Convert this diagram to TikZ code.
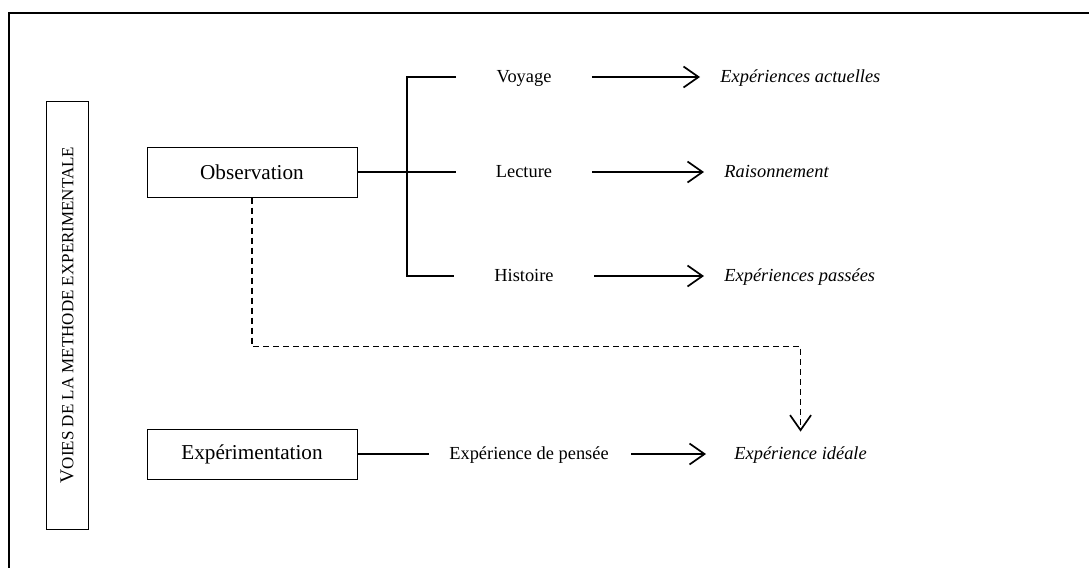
\documentclass[tikz,border=0pt]{standalone}
\usepackage{fontspec}
\setmainfont{Liberation Serif}
\usetikzlibrary{arrows.meta}

\begin{document}
\begin{tikzpicture}[x=0.5pt, y=-0.5pt,
    boite/.style={draw, line width=0.5pt, minimum width=105pt, minimum height=25pt,
        inner sep=0pt, font=\fontsize{10.6}{12}\selectfont},
    etiq/.style={inner sep=0pt, text height=7pt, text depth=2pt, font=\fontsize{9.2}{11}\selectfont},
    resu/.style={etiq, anchor=west, font=\fontsize{9.2}{11}\selectfont\itshape},
    trait/.style={line width=0.85pt},
    fleche/.style={trait, -{Straight Barb[length=7.5pt, width=10.5pt]}},
    pointille/.style={fleche, dash pattern=on 3pt off 2pt}]
    \useasboundingbox (0,0) rectangle (1089,568);
    \clip (0,0) rectangle (1089,568);

    % Cadre extérieur (coupé à droite et en bas)
    \draw[line width=1pt] (9,600) |- (1120,13);

    % Titre vertical
    \node[draw, line width=0.5pt, rotate=90, minimum width=214pt, minimum height=21pt, inner sep=0pt]
        (voies) at (67,315)
        {\fontsize{9.8}{11}\selectfont V\fontsize{8.5}{10}\selectfont OIES DE LA METHODE EXPERIMENTALE};

    % Les deux voies
    \node[boite] (obs) at (252,172) {Observation};
    \node[boite] (exp) at (252,454) {Expérimentation};

    % Branches de l'observation
    \node[etiq] (voy) at (524,77) {Voyage};
    \node[etiq] (lec) at (524,172) {Lecture};
    \node[etiq] (his) at (524,276) {Histoire};
    \node[resu] (act) at (720,77) {Expériences actuelles};
    \node[resu] (rai) at (724,172) {Raisonnement};
    \node[resu] (pas) at (724,276) {Expériences passées};

    \draw[trait] (obs) -- ([xshift=-20pt]lec.west);
    \draw[trait] ([xshift=-20pt]voy.west) -| (407,172) |- ([xshift=-20pt]his.west);
    \draw[fleche] ([xshift=20pt]voy.east) -- ([xshift=-10pt]act.west);
    \draw[fleche] ([xshift=20pt]lec.east) -- ([xshift=-10pt]rai.west);
    \draw[fleche] ([xshift=20pt]his.east) -- ([xshift=-10pt]pas.west);

    % Branche de l'expérimentation
    \node[etiq] (pen) at (529,454) {Expérience de pensée};
    \node[resu] (ide) at (734,454) {Expérience idéale};

    \draw[trait] (exp) -- ([xshift=-10pt]pen.west);
    \draw[fleche] ([xshift=11pt]pen.east) -- ([xshift=-14pt]ide.west);

    % Lien en pointillés
    \draw[pointille, shorten >=6.5pt] (obs.south) -- ++(0,149) -| (ide.north);
\end{tikzpicture}
\end{document}
